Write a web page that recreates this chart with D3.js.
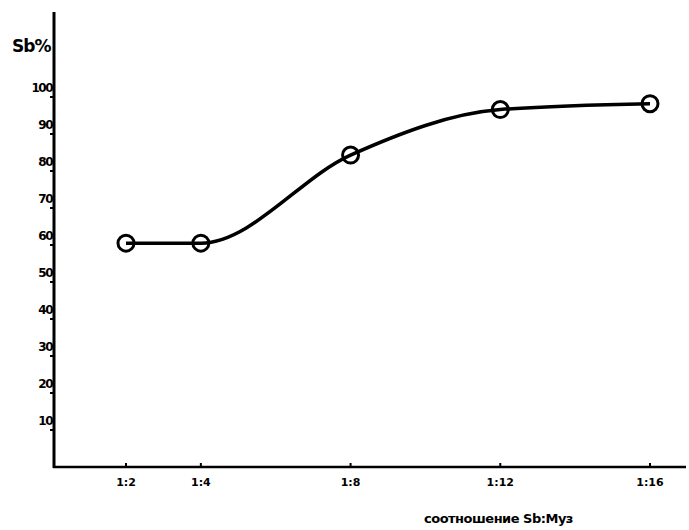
<!DOCTYPE html>
<html>
<head>
<meta charset="utf-8">
<script src="https://cdn.jsdelivr.net/npm/d3@7"></script>
<style>
  body { margin: 0; background: #fff; }
  text { font-family: "DejaVu Sans", sans-serif; font-weight: bold; fill: #000; }
</style>
</head>
<body>
<div id="chart"></div>
<script>
// ratio Sb : ligand
var ratios = [2, 4, 8, 12, 16];
var ratioLabels = ["1:2", "1:4", "1:8", "1:12", "1:16"];
var sbPercent = [60.5, 60.5, 84.3, 96.6, 98.2];
var yTicks = [10, 20, 30, 40, 50, 60, 70, 80, 90, 100];

var width = 689, height = 530;

var svg = d3.select("#chart")
  .append("svg")
  .attr("width", width)
  .attr("height", height);

var x = d3.scaleLinear().domain([2, 16]).range([126, 650]);
var y = d3.scaleLinear().domain([0, 100]).range([467, 97]);

var axisX = 54, axisY = y(0);

// axes lines
svg.append("line")
  .attr("x1", axisX).attr("x2", axisX)
  .attr("y1", 12).attr("y2", axisY + 1)
  .attr("stroke", "#000").attr("stroke-width", 3);

svg.append("line")
  .attr("x1", axisX - 1).attr("x2", 686)
  .attr("y1", axisY).attr("y2", axisY)
  .attr("stroke", "#000").attr("stroke-width", 2.5);

// y ticks: small marks on the left of the axis, label sits just above
var yt = svg.append("g").selectAll("g")
  .data(yTicks)
  .enter().append("g")
  .attr("transform", function (d) { return "translate(0," + y(d) + ")"; });

yt.append("line")
  .attr("x1", axisX - 4).attr("x2", axisX)
  .attr("stroke", "#000").attr("stroke-width", 2);

yt.append("text")
  .attr("x", axisX - 2)
  .attr("y", -5)
  .attr("text-anchor", "end")
  .attr("font-size", 12)
  .attr("letter-spacing", -1.5)
  .text(function (d) { return d; });

// x ticks
var xt = svg.append("g").selectAll("g")
  .data(ratios)
  .enter().append("g")
  .attr("transform", function (d) { return "translate(" + x(d) + "," + axisY + ")"; });

xt.append("line")
  .attr("y1", -4).attr("y2", 0)
  .attr("stroke", "#000").attr("stroke-width", 2);

xt.append("text")
  .attr("y", 19)
  .attr("text-anchor", "middle")
  .attr("font-size", 11)
  .text(function (d, i) { return ratioLabels[i]; });

// axis titles
svg.append("text")
  .attr("x", 12).attr("y", 52)
  .attr("font-size", 17)
  .attr("letter-spacing", -1)
  .text("Sb%");

svg.append("text")
  .attr("x", 424).attr("y", 523)
  .attr("font-size", 13)
  .attr("letter-spacing", -0.5)
  .text("соотношение Sb:Муз");

// the curve
var line = d3.line()
  .x(function (d, i) { return x(ratios[i]); })
  .y(function (d) { return y(d); })
  .curve(d3.curveMonotoneX);

svg.append("path")
  .datum(sbPercent)
  .attr("d", line)
  .attr("fill", "none")
  .attr("stroke", "#000")
  .attr("stroke-width", 3.5);

svg.append("g").selectAll("circle")
  .data(sbPercent)
  .enter().append("circle")
  .attr("cx", function (d, i) { return x(ratios[i]); })
  .attr("cy", function (d) { return y(d); })
  .attr("r", 8)
  .attr("fill", "none")
  .attr("stroke", "#000")
  .attr("stroke-width", 3);
</script>
</body>
</html>
